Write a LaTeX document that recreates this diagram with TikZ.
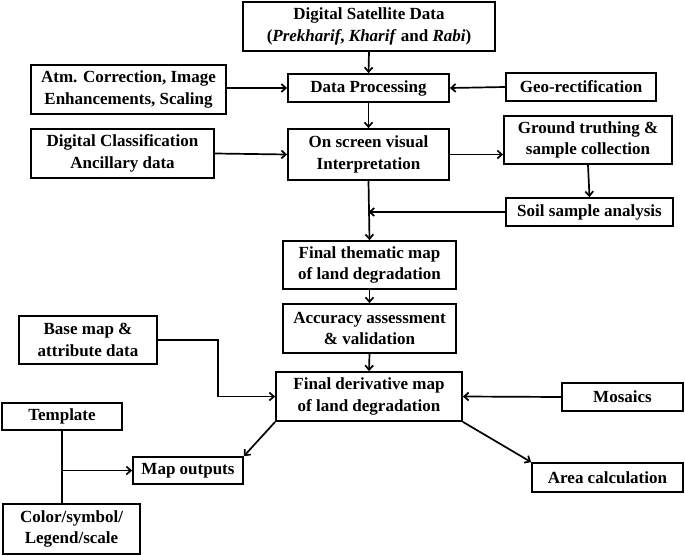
\documentclass[tikz,border=0pt]{standalone}
\usepackage{fontspec}
\setmainfont{Liberation Serif}
\usetikzlibrary{arrows.meta, positioning}

\begin{document}
\begin{tikzpicture}[x=1pt, y=-1pt,
                box/.style={draw, line width=1.8pt, align=center, inner sep=0pt,
                           font=\fontsize{17}{21.5}\selectfont\bfseries},
                arr/.style={-{Straight Barb[length=4.5pt,width=8pt]}, line width=1.7pt}]

                \useasboundingbox (0,0) rectangle (685,556);

                % Satellite data and processing chain (centre column)
                \node[box, minimum width=252pt, minimum height=49pt] (sat) at (369,26.5)
                    {Digital Satellite Data\\(\textit{Prekharif}, \textit{Kharif} and \textit{Rabi})};
                \node[box, minimum width=161pt, minimum height=28pt] (proc) at (368.5,88)
                    {Data Processing};
                \node[box, minimum width=161pt, minimum height=51pt] (screen) at (368.5,154.5)
                    {On screen visual\\Interpretation};
                \node[box, minimum width=173pt, minimum height=48pt] (thematic) at (369.5,265)
                    {Final thematic map\\of land degradation};
                \node[box, minimum width=173pt, minimum height=49pt] (accuracy) at (369.5,328.5)
                    {Accuracy assessment\\\& validation};
                \node[box, minimum width=186pt, minimum height=49pt] (deriv) at (369,396.5)
                    {Final derivative map\\of land degradation};

                % Inputs on the left
                \node[box, minimum width=195pt, minimum height=49pt] (atm) at (128.5,89.5)
                    {Atm. Correction, Image\\Enhancements, Scaling};
                \node[box, minimum width=183pt, minimum height=49pt] (digc) at (122.5,153.5)
                    {Digital Classification\\Ancillary data};
                \node[box, minimum width=138pt, minimum height=48pt] (base) at (88,340)
                    {Base map \&\\attribute data};

                % Inputs and checks on the right
                \node[box, minimum width=150pt, minimum height=28pt] (geo) at (581,87)
                    {Geo-rectification};
                \node[box, minimum width=168pt, minimum height=48pt] (ground) at (588,140)
                    {Ground truthing \&\\sample collection};
                \node[box, minimum width=167pt, minimum height=28pt] (soil) at (589.5,212)
                    {Soil sample analysis};
                \node[box, minimum width=121pt, minimum height=28pt] (mosaics) at (622.5,397)
                    {Mosaics};

                % Outputs
                \node[box, minimum width=120pt, minimum height=27pt] (template) at (62,416.5)
                    {Template};
                \node[box, minimum width=137pt, minimum height=50pt] (color) at (71.5,529)
                    {Color/symbol/\\Legend/scale};
                \node[box, minimum width=110pt, minimum height=27pt] (mapout) at (188,470.5)
                    {Map outputs};
                \node[box, minimum width=151pt, minimum height=29pt] (area) at (607.5,477.5)
                    {Area calculation};

                % Main flow
                \draw[arr] (sat.south) -- (proc.north);
                \draw[arr] (proc.south) -- (screen.north);
                \draw[arr] (screen.south) -- (thematic.north);
                \draw[arr] (thematic.south) -- (accuracy.north);
                \draw[arr] (accuracy.south) -- (deriv.north);

                % Side inputs
                \draw[arr] (atm.east |- proc.west) -- (proc.west);
                \draw[arr] (geo.west) -- (proc.east);
                \draw[arr] (digc.east) -- (screen.west);
                \draw[arr] (screen.east) -- (screen.east -| ground.west);
                \draw[arr] (ground.south) -- (soil.north);
                \draw[arr] (soil.west) -- (soil.west -| screen.south);
                \draw[arr] (base.east) -- ++(60,0) |- (deriv.west);
                \draw[arr] (mosaics.west) -- (deriv.east);

                % Derived products
                \draw[arr] (deriv.south west) -- (mapout.north east);
                \draw[arr] (deriv.south east) -- (area.north west);
                \draw[line width=1.7pt] (template.south) -- (template.south |- color.north);
                \draw[arr] (template.south |- mapout.west) -- (mapout.west);
            \end{tikzpicture}
\end{document}
